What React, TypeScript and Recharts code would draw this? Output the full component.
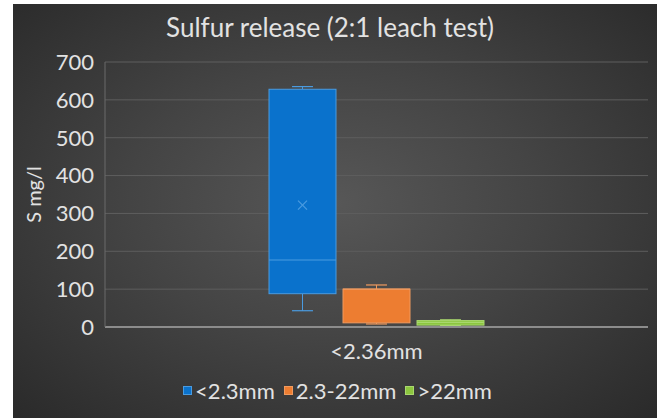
import { BarChart, Bar, XAxis, YAxis, CartesianGrid, Legend } from 'recharts';

const categories = ['<2.36mm'];
const seriesNames = ['<2.3mm', '2.3-22mm', '>22mm'];
const minVals = [43, 8, 4];
const q1Vals = [88, 11, 5];
const medianVals = [177, 100, 12];
const q3Vals = [628, 100, 17];
const maxVals = [635, 111, 19];
const meanVals: (number | null)[] = [322, null, null];
const yTicks = [0, 100, 200, 300, 400, 500, 600, 700];

const FILLS = ['#0A72CC', '#ED7D31', '#8CC63F'];
const EDGES = ['#4A9BE0', '#F09A5E', '#A9D86E'];
const FONT = 'Lato, "Open Sans", sans-serif';
const TXT = '#e2e2e2';

const data = categories.map((name) => {
  const row: Record<string, unknown> = { name };
  seriesNames.forEach((_, i) => {
    row[`s${i}`] = [q1Vals[i], q3Vals[i]];
  });
  return row;
});

function BoxShape(props: any) {
  const { x, y, width, height, idx } = props;
  const lo = q1Vals[idx];
  const hi = q3Vals[idx];
  const k = height / (hi - lo || 1);
  const yOf = (v: number) => y + height - (v - lo) * k;
  const cx = x + width / 2;
  const cap = width / 3.2;
  const edge = EDGES[idx];
  const yMin = yOf(minVals[idx]);
  const yMax = yOf(maxVals[idx]);
  const yMed = yOf(medianVals[idx]);
  const mean = meanVals[idx];
  return (
    <g>
      <line x1={cx} x2={cx} y1={yMax} y2={y} stroke={edge} strokeWidth={1} />
      <line x1={cx - cap / 2} x2={cx + cap / 2} y1={yMax} y2={yMax} stroke={edge} strokeWidth={1.2} />
      <line x1={cx} x2={cx} y1={y + height} y2={yMin} stroke={edge} strokeWidth={1} />
      <line x1={cx - cap / 2} x2={cx + cap / 2} y1={yMin} y2={yMin} stroke={edge} strokeWidth={1.2} />
      <rect x={x} y={y} width={width} height={Math.max(height, 1)} fill={FILLS[idx]} stroke={edge} strokeWidth={1} />
      <line x1={x} x2={x + width} y1={yMed} y2={yMed} stroke={edge} strokeWidth={1.2} />
      {mean != null && (
        <g stroke={edge} strokeWidth={1.2}>
          <line x1={cx - 4.5} x2={cx + 4.5} y1={yOf(mean) - 4.5} y2={yOf(mean) + 4.5} />
          <line x1={cx - 4.5} x2={cx + 4.5} y1={yOf(mean) + 4.5} y2={yOf(mean) - 4.5} />
        </g>
      )}
    </g>
  );
}

function YLabel(props: any) {
  const { viewBox } = props;
  const cy = viewBox.y + viewBox.height / 2;
  const lx = 20;
  return (
    <text x={lx} y={cy} transform={`rotate(-90, ${lx}, ${cy})`} textAnchor="middle" dominantBaseline="central" fill={TXT} fontSize={20} fontFamily={FONT}>
      S mg/l
    </text>
  );
}

function LegendContent() {
  return (
    <div style={{ display: 'flex', justifyContent: 'center', alignItems: 'center', fontFamily: FONT, fontSize: 22, color: TXT, gap: 9, paddingLeft: 14 }}>
      {seriesNames.map((n, i) => (
        <span key={n} style={{ display: 'flex', alignItems: 'center', gap: 3 }}>
          <span style={{ width: 9, height: 9, background: FILLS[i], display: 'inline-block', border: `1px solid ${EDGES[i]}`, boxSizing: 'border-box' }} />
          {n}
        </span>
      ))}
    </div>
  );
}

export default function App() {
  return (
    <div style={{ position: 'absolute', left: 0, top: 0, width: 657, height: 418, background: '#fff' }}>
      <div
        style={{
          position: 'absolute',
          left: 13,
          top: 4,
          width: 644,
          height: 414,
          background: 'radial-gradient(ellipse at 50% 48%, #575757 0%, #444444 45%, #2a2a2a 100%)',
        }}
      >
        <div style={{ position: 'absolute', left: 0, top: 7, width: 634, textAlign: 'center', fontFamily: FONT, fontSize: 26, color: TXT }}>
          Sulfur release (2:1 leach test)
        </div>
        <BarChart width={644} height={414} data={data} margin={{ top: 58, right: 9, left: 0, bottom: 14 }} barSize={67} barGap={7}>
          <CartesianGrid vertical={false} stroke="#5e5e5e" strokeWidth={1} />
          <XAxis
            dataKey="name"
            height={50}
            tickLine={false}
            axisLine={{ stroke: '#8c8c8c', strokeWidth: 2 }}
            tick={{ fill: TXT, fontSize: 22, fontFamily: FONT }}
            tickMargin={10}
          />
          <YAxis
            width={92}
            domain={[0, 700]}
            ticks={yTicks}
            tickLine={false}
            axisLine={{ stroke: '#6a6a6a' }}
            tick={{ fill: TXT, fontSize: 22, fontFamily: FONT }}
            tickMargin={5}
            label={<YLabel />}
          />
          <Legend verticalAlign="bottom" content={<LegendContent />} />
          {seriesNames.map((n, i) => (
            <Bar key={n} dataKey={`s${i}`} name={n} isAnimationActive={false} shape={(p: any) => <BoxShape {...p} idx={i} />} />
          ))}
        </BarChart>
      </div>
    </div>
  );
}
